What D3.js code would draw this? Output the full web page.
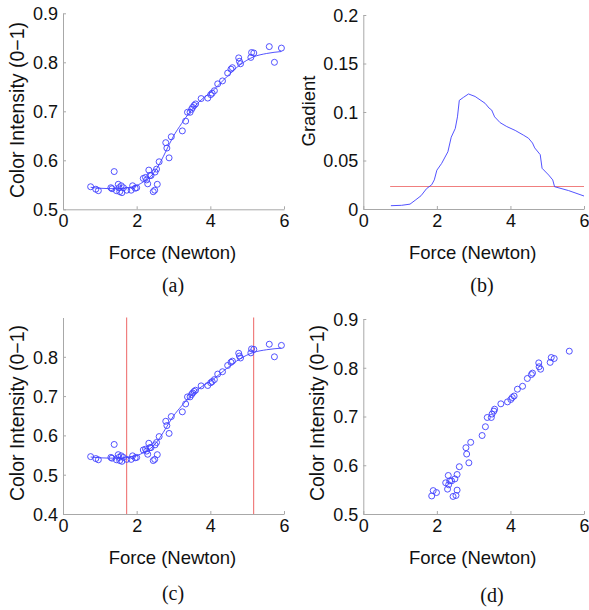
<!DOCTYPE html>
<html><head><meta charset="utf-8">
<script src="https://cdn.jsdelivr.net/npm/d3@7"></script>
<style>body{margin:0;background:#fff}svg{display:block}text{font-family:"Liberation Sans",Arial,sans-serif;fill:#111}</style>
</head><body><svg id="c" width="589" height="610"></svg>
<script>
// ---- data ----
const forceA = [0.75,0.89,0.96,1.30,1.33,1.39,1.45,1.50,1.52,1.54,1.58,1.60,1.64,1.73,1.85,1.89,1.96,2.00,
  2.18,2.24,2.27,2.30,2.33,2.36,2.39,2.45,2.49,2.50,2.54,2.56,2.61,2.79,2.82,2.88,2.94,3.24,3.33,3.38,3.45,3.49,3.52,3.56,3.60,
  3.75,3.93,4.01,4.05,4.11,4.20,4.33,4.47,4.56,4.60,4.77,4.79,4.82,5.10,5.12,5.18,5.60,5.74,5.93];
const intensityA = [0.546,0.541,0.538,0.544,0.542,0.577,0.538,0.551,0.544,0.536,0.548,0.534,0.544,0.539,0.539,0.548,0.543,0.544,
  0.563,0.565,0.560,0.552,0.580,0.569,0.569,0.536,0.539,0.576,0.582,0.551,0.597,0.636,0.625,0.605,0.648,0.660,0.680,0.698,0.698,0.704,0.708,0.712,0.715,
  0.726,0.727,0.734,0.737,0.742,0.756,0.762,0.778,0.786,0.789,0.809,0.802,0.797,0.810,0.820,0.819,0.832,0.800,0.829];
const fitX = [0.75,1.0,1.46,1.91,2.18,2.45,2.63,2.81,2.99,3.22,3.45,3.72,4.08,4.44,4.81,5.17,5.53,5.93];
const fitY = [0.545,0.543,0.542,0.546,0.556,0.573,0.594,0.621,0.648,0.675,0.699,0.721,0.743,0.770,0.795,0.811,0.818,0.822];
const gradX = [0.75,1.04,1.27,1.41,1.57,1.72,1.86,1.93,2.00,2.13,2.30,2.39,2.50,2.56,2.61,2.72,2.86,3.04,3.31,3.42,3.49,3.57,3.72,3.90,4.13,4.36,4.49,4.60,4.66,4.81,4.86,5.04,5.15,5.20,5.58,6.00];
const gradY = [0.0034,0.0038,0.005,0.009,0.0137,0.021,0.025,0.030,0.040,0.047,0.059,0.074,0.083,0.095,0.112,0.115,0.1186,0.116,0.109,0.104,0.102,0.095,0.089,0.085,0.081,0.076,0.073,0.068,0.063,0.056,0.042,0.035,0.030,0.023,0.019,0.0134];
const threshold = 0.024;
const thresholdRange = [0.73, 6.0];
const cutForces = [1.71, 5.17];
const forceD = [1.86,1.90,1.99,2.24,2.29,2.31,2.32,2.35,2.40,2.44,2.49,2.52,2.55,2.55,2.61,2.79,2.81,2.87,2.92,3.23,3.32,3.37,3.48,3.50,3.55,3.57,
  3.74,3.92,4.01,4.05,4.10,4.19,4.33,4.46,4.57,4.60,4.77,4.78,4.82,5.08,5.11,5.19,5.60];
const intensityD = [0.537,0.548,0.544,0.564,0.551,0.579,0.560,0.568,0.568,0.536,0.572,0.538,0.581,0.549,0.597,0.636,0.623,0.605,0.647,0.661,0.679,0.698,0.698,0.705,0.711,0.715,
  0.726,0.730,0.735,0.739,0.742,0.756,0.762,0.778,0.786,0.789,0.810,0.802,0.797,0.811,0.821,0.819,0.834];
const xTicks = [0,2,4,6];
const yTicksA = [0.5,0.6,0.7,0.8,0.9];
const yTicksB = [0,0.05,0.1,0.15,0.2];
const yTicksC = [0.4,0.5,0.6,0.7,0.8];
const yTicksD = [0.5,0.6,0.7,0.8,0.9];
const xLabel = "Force (Newton)";
const yLabel = "Color Intensity (0\u22121)";
const yLabelB = "Gradient";
const captions = ["(a)","(b)","(c)","(d)"];

// ---- drawing ----
const svg = d3.select("#c");
const BLUE = "#3f3fff", RED = "#f07f7f", AX = "#a8a8a8";

function panel(o){
  const x = d3.scaleLinear().domain([0,6]).range([o.l,o.r]);
  const y = d3.scaleLinear().domain(o.yd).range([o.b,o.t]);
  const g = svg.append("g");
  const xa = g.append("g").attr("transform",`translate(0,${o.b})`)
    .call(d3.axisBottom(x).tickValues(xTicks).tickFormat(d3.format("d")).tickSizeInner(-3).tickSizeOuter(0).tickPadding(4));
  const ya = g.append("g").attr("transform",`translate(${o.l},0)`)
    .call(d3.axisLeft(y).tickValues(o.yt).tickFormat(v=>String(+v.toFixed(2))).tickSizeInner(-3).tickSizeOuter(0).tickPadding(5));
  [xa,ya].forEach(a=>{
    a.selectAll("path,line").attr("stroke",AX);
    a.selectAll("text").attr("font-size",18).attr("fill","#111").attr("font-family","Liberation Sans, Arial, sans-serif");
  });
  ya.selectAll("text").attr("dy","0.36em");
  xa.selectAll("text").attr("dy","0.76em");
  g.append("text").attr("x",(o.l+o.r)/2-1).attr("y",o.b+50).attr("text-anchor","middle").attr("font-size",18.5).text(xLabel);
  g.append("text").attr("transform",`translate(${o.l-(o.ylo||39)},${o.ylc}) rotate(-90)`).attr("text-anchor","middle").attr("font-size",o.yls||19.5).text(o.yl);
  g.append("text").attr("x",o.cx).attr("y",o.cy).attr("text-anchor","middle").attr("font-size",20)
    .style("font-family","Liberation Serif, Times New Roman, serif").text(o.cap);
  return {g,x,y};
}

function scatter(p, xs, ys){
  p.g.append("g").selectAll("circle").data(xs).join("circle")
    .attr("cx",(d)=>p.x(d)).attr("cy",(d,i)=>p.y(ys[i])).attr("r",3)
    .attr("fill","none").attr("stroke",BLUE).attr("stroke-width",0.9);
}
function fit(p){
  const line = d3.line().x(d=>p.x(d[0])).y(d=>p.y(d[1])).curve(d3.curveMonotoneX);
  p.g.append("path").attr("d",line(fitX.map((v,i)=>[v,fitY[i]]))).attr("fill","none").attr("stroke",BLUE).attr("stroke-width",0.9);
}

// (a)
const pa = panel({l:63,r:284,t:13.3,b:209.3,yd:[0.5,0.9],yt:yTicksA,yl:yLabel,ylc:110,cap:captions[0],cx:173,cy:292});
fit(pa); scatter(pa, forceA, intensityA);

// (b)
const pb = panel({l:363.3,r:584,t:15,b:209,yd:[0,0.2],yt:yTicksB,yl:yLabelB,ylc:111,yls:18.5,ylo:48,cap:captions[1],cx:482,cy:292});
pb.g.append("line").attr("x1",pb.x(thresholdRange[0])).attr("x2",pb.x(thresholdRange[1]))
  .attr("y1",Math.round(pb.y(threshold))+0.5).attr("y2",Math.round(pb.y(threshold))+0.5).attr("stroke",RED).attr("stroke-width",1);
pb.g.append("path").attr("d",d3.line().x(d=>pb.x(d[0])).y(d=>pb.y(d[1]))(gradX.map((v,i)=>[v,gradY[i]])))
  .attr("fill","none").attr("stroke",BLUE).attr("stroke-width",0.9);

// (c)
const pc = panel({l:63,r:284,t:317.5,b:514,yd:[0.4,0.9],yt:yTicksC,yl:yLabel,ylc:413,cap:captions[2],cx:173,cy:600});
const cutG = pc.g.append("g");
cutForces.forEach(f=>{
  const px = Math.round(pc.x(f));
  cutG.append("rect").attr("x",px).attr("width",1.2).attr("y",pc.y(0.9)).attr("height",pc.y(0.4)-pc.y(0.9))
    .attr("fill",RED);
});
fit(pc); scatter(pc, forceA, intensityA);

// (d)
const pd = panel({l:363.3,r:584,t:319,b:514,yd:[0.5,0.9],yt:yTicksD,yl:yLabel,ylc:413,cap:captions[3],cx:492,cy:602});
scatter(pd, forceD, intensityD);
</script></body></html>
